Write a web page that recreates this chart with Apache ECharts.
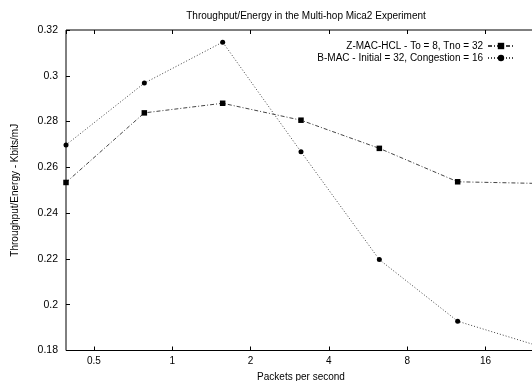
<!DOCTYPE html>
<html>
<head>
<meta charset="utf-8">
<script src="https://cdn.jsdelivr.net/npm/echarts@6/dist/echarts.min.js"></script>
<style>
  html, body { margin: 0; padding: 0; background: #fff; }
  #main { width: 532px; height: 381px; }
</style>
</head>
<body>
<div id="main"></div>
<script>
  // packets per second (log2 axis)
  const rates = [0.390625, 0.78125, 1.5625, 3.125, 6.25, 12.5, 25]
  const zmac = [0.2534, 0.2838, 0.2880, 0.2806, 0.2683, 0.2537, 0.2530]
  const bmac = [0.2698, 0.2968, 0.3147, 0.2668, 0.2197, 0.1928, 0.1823]
  const seriesNames = ['Z-MAC-HCL - To = 8, Tno = 32', 'B-MAC - Initial = 32, Congestion = 16']
  const yMin = 0.18
  const yMax = 0.32
  const yStep = 0.02

  const font = 'Liberation Sans, Arial, sans-serif'
  const pair = (xs, ys) => xs.map((x, i) => [x, ys[i]])

  const xBase = {
    type: 'log',
    logBase: 2,
    min: rates[0],
    max: rates[rates.length - 1],
    splitNumber: 5,
    splitLine: { show: false },
    axisLine: { show: false },
    axisTick: { show: true, inside: true, length: 4, lineStyle: { color: '#000' } }
  }
  const yBase = {
    type: 'value',
    min: yMin,
    max: yMax,
    interval: yStep,
    splitLine: { show: false },
    axisLine: { show: false },
    axisTick: { show: true, inside: true, length: 4, lineStyle: { color: '#000' } }
  }

  let chart = echarts.init(document.getElementById('main'), null, { renderer: 'canvas' })
  chart.setOption({
    animation: false,
    textStyle: { fontFamily: font },
    title: {
      text: 'Throughput/Energy in the Multi-hop Mica2 Experiment',
      left: 301,
      textAlign: 'center',
      top: 6,
      textStyle: { fontSize: 10, fontWeight: 'normal', color: '#000', fontFamily: font }
    },
    grid: {
      left: 66, right: -4, top: 30, bottom: 30.5,
      containLabel: false,
      outerBoundsMode: 'none',
      show: true,
      borderColor: '#000',
      borderWidth: 1
    },
    legend: {
      orient: 'vertical',
      right: 12,
      top: 36,
      align: 'right',
      itemWidth: 26,
      itemHeight: 8,
      itemGap: 2,
      textStyle: { fontSize: 10, color: '#000', fontFamily: font },
      data: seriesNames
    },
    xAxis: [
      Object.assign({}, xBase, {
        position: 'bottom',
        name: 'Packets per second',
        nameLocation: 'middle',
        nameGap: 22,
        nameTextStyle: { fontSize: 10, color: '#000', fontFamily: font },
        axisLabel: {
          fontSize: 10, color: '#000', margin: 6, fontFamily: font,
          showMinLabel: false, showMaxLabel: false
        }
      }),
      Object.assign({}, xBase, { position: 'top', axisLabel: { show: false } })
    ],
    yAxis: [
      Object.assign({}, yBase, {
        position: 'left',
        name: 'Throughput/Energy - Kbits/mJ',
        nameLocation: 'middle',
        nameGap: 46,
        nameTextStyle: { fontSize: 10, color: '#000', fontFamily: font },
        axisLabel: { fontSize: 10.5, color: '#000', margin: 8, fontFamily: font }
      }),
      Object.assign({}, yBase, { position: 'right', axisLabel: { show: false } })
    ],
    series: [
      {
        name: seriesNames[0],
        type: 'line',
        data: pair(rates, zmac),
        symbol: 'rect',
        symbolSize: 5.5,
        itemStyle: { color: '#000' },
        lineStyle: { color: '#444', width: 1, type: [4, 2, 1, 2] }
      },
      {
        name: seriesNames[1],
        type: 'line',
        data: pair(rates, bmac),
        symbol: 'circle',
        symbolSize: 5,
        itemStyle: { color: '#000' },
        lineStyle: { color: '#444', width: 1, type: [1, 2] }
      }
    ]
  })
</script>
</body>
</html>
